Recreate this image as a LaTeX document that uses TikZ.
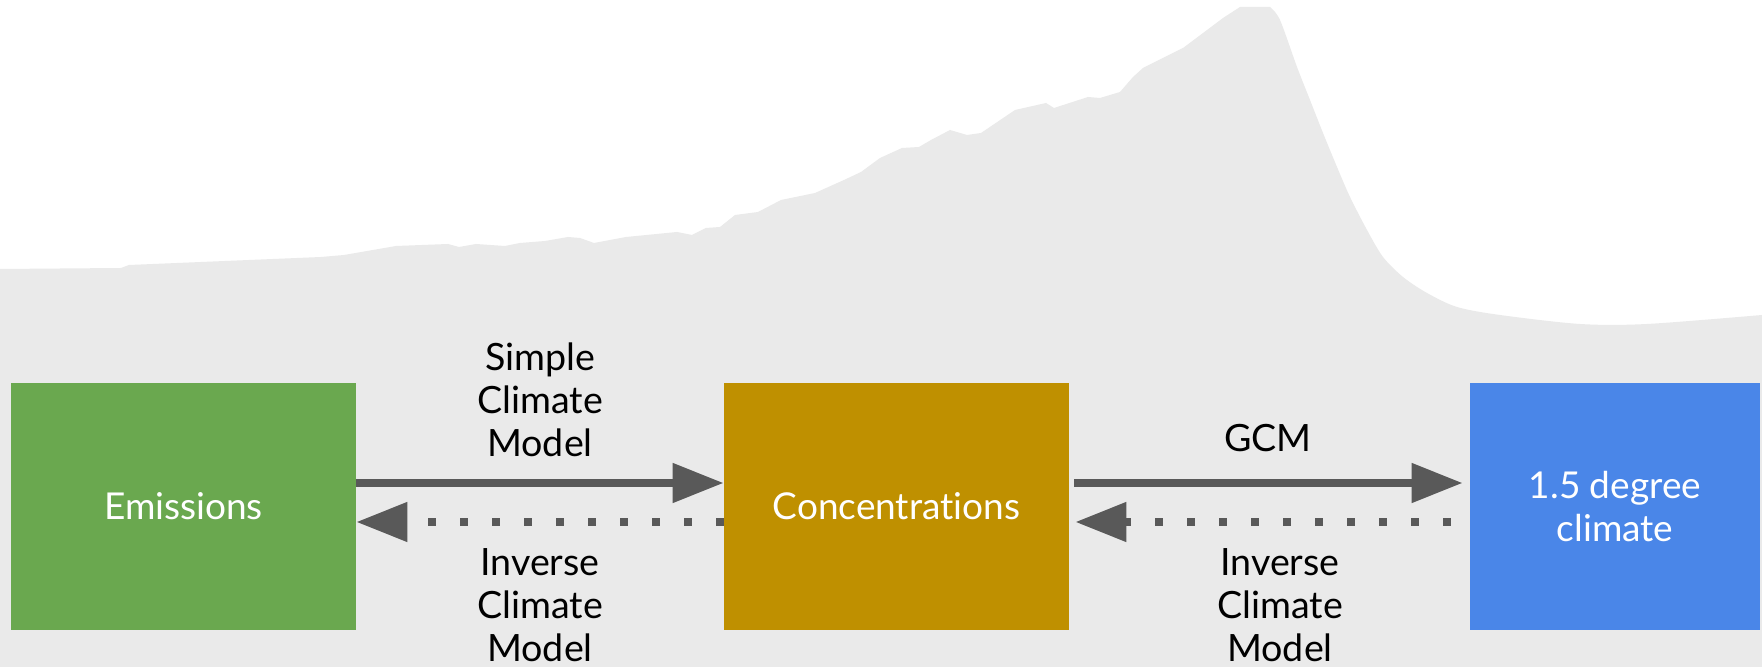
\documentclass[tikz,border=0pt]{standalone}
\usepackage{fontspec}
\setmainfont{Lato}[Ligatures=NoCommon]
\usetikzlibrary{arrows.meta}
\definecolor{bg}{HTML}{EAEAEA}
\definecolor{emgreen}{HTML}{6AA84F}
\definecolor{congold}{HTML}{BF9000}
\definecolor{climblue}{HTML}{4A86E8}
\definecolor{arrowgray}{HTML}{595959}
\begin{document}
\begin{tikzpicture}[x=0.5pt,y=-0.5pt,
  box/.style={rectangle, inner sep=0pt, minimum width=172.5pt, minimum height=123.5pt, text=white, font=\fontsize{18.5}{21.5}\selectfont, align=center},
  lbl/.style={align=center, font=\fontsize{18.8}{21.5}\selectfont, inner sep=0pt},
  fwd/.style={draw=arrowgray, line width=4pt, -{Triangle[length=25.5pt,width=19pt]}},
  inv/.style={draw=arrowgray, line width=4pt, dash pattern=on 4pt off 12pt, -{Triangle[length=25.5pt,width=19pt]}}]
\useasboundingbox (0,0) rectangle (1762,667);
\fill[white] (0,0) rectangle (1762,667);
\fill[bg] (0,269) -- (121,268) -- (129,265) -- (201,262) -- (321,257) -- (344,255) -- (396,246) -- (448,244) -- (459,247) -- (476,244) -- (505,246) -- (520,243) -- (545,241) -- (568,237) -- (580,238) -- (594,243) -- (626,237) -- (677,232) -- (692,235) -- (706,228) -- (720,227) -- (735,215) -- (758,212) -- (781,200) -- (815,193) -- (844,180) -- (861,172) -- (880,158) -- (902,148) -- (919,147) -- (931,140) -- (950,130) -- (967,135) -- (981,133) -- (1015,110) -- (1046,103) -- (1054,108) -- (1088,97) -- (1100,98) -- (1120,92) -- (1133,77) -- (1143,68) -- (1183,48) -- (1223,18) -- (1240,7)
  -- plot[smooth, tension=0.5] coordinates {(1270,7) (1280,20) (1297,67) (1310,100) (1323,133) (1337,167) (1350,197) (1367,230) (1383,257) (1403,277) (1427,293) (1457,307) (1500,315) (1580,324) (1647,324) (1762,315)}
  -- (1762,667) -- (0,667) -- cycle;
\node[box, fill=emgreen] (em) at (183.5,506.5) {Emissions};
\node[box, fill=congold] (conc) at (896.5,506.5) {Concentrations};
\node[box, fill=climblue, minimum width=145pt] (clim) at (1615,506.5) {1.5 degree\\climate};
\draw[fwd] ([yshift=11.75pt]em.east) -- ([yshift=11.75pt]conc.west);
\draw[inv] ([yshift=-7.75pt]conc.west) -- ([yshift=-7.75pt]em.east);
\draw[fwd, shorten <=2.5pt, shorten >=3.5pt] ([yshift=11.75pt]conc.east) -- ([yshift=11.75pt]clim.west);
\draw[inv, shorten <=9.5pt, shorten >=3pt] ([yshift=-7.75pt]clim.west) -- ([yshift=-7.75pt]conc.east);
\node[lbl] (scm) at (540,400) {Simple\\Climate\\Model};
\node[lbl] (icm1) at (540,605) {Inverse\\Climate\\Model};
\node[lbl] (gcm) at (1268,438) {GCM};
\node[lbl] (icm2) at (1280,605) {Inverse\\Climate\\Model};
\end{tikzpicture}
\end{document}
